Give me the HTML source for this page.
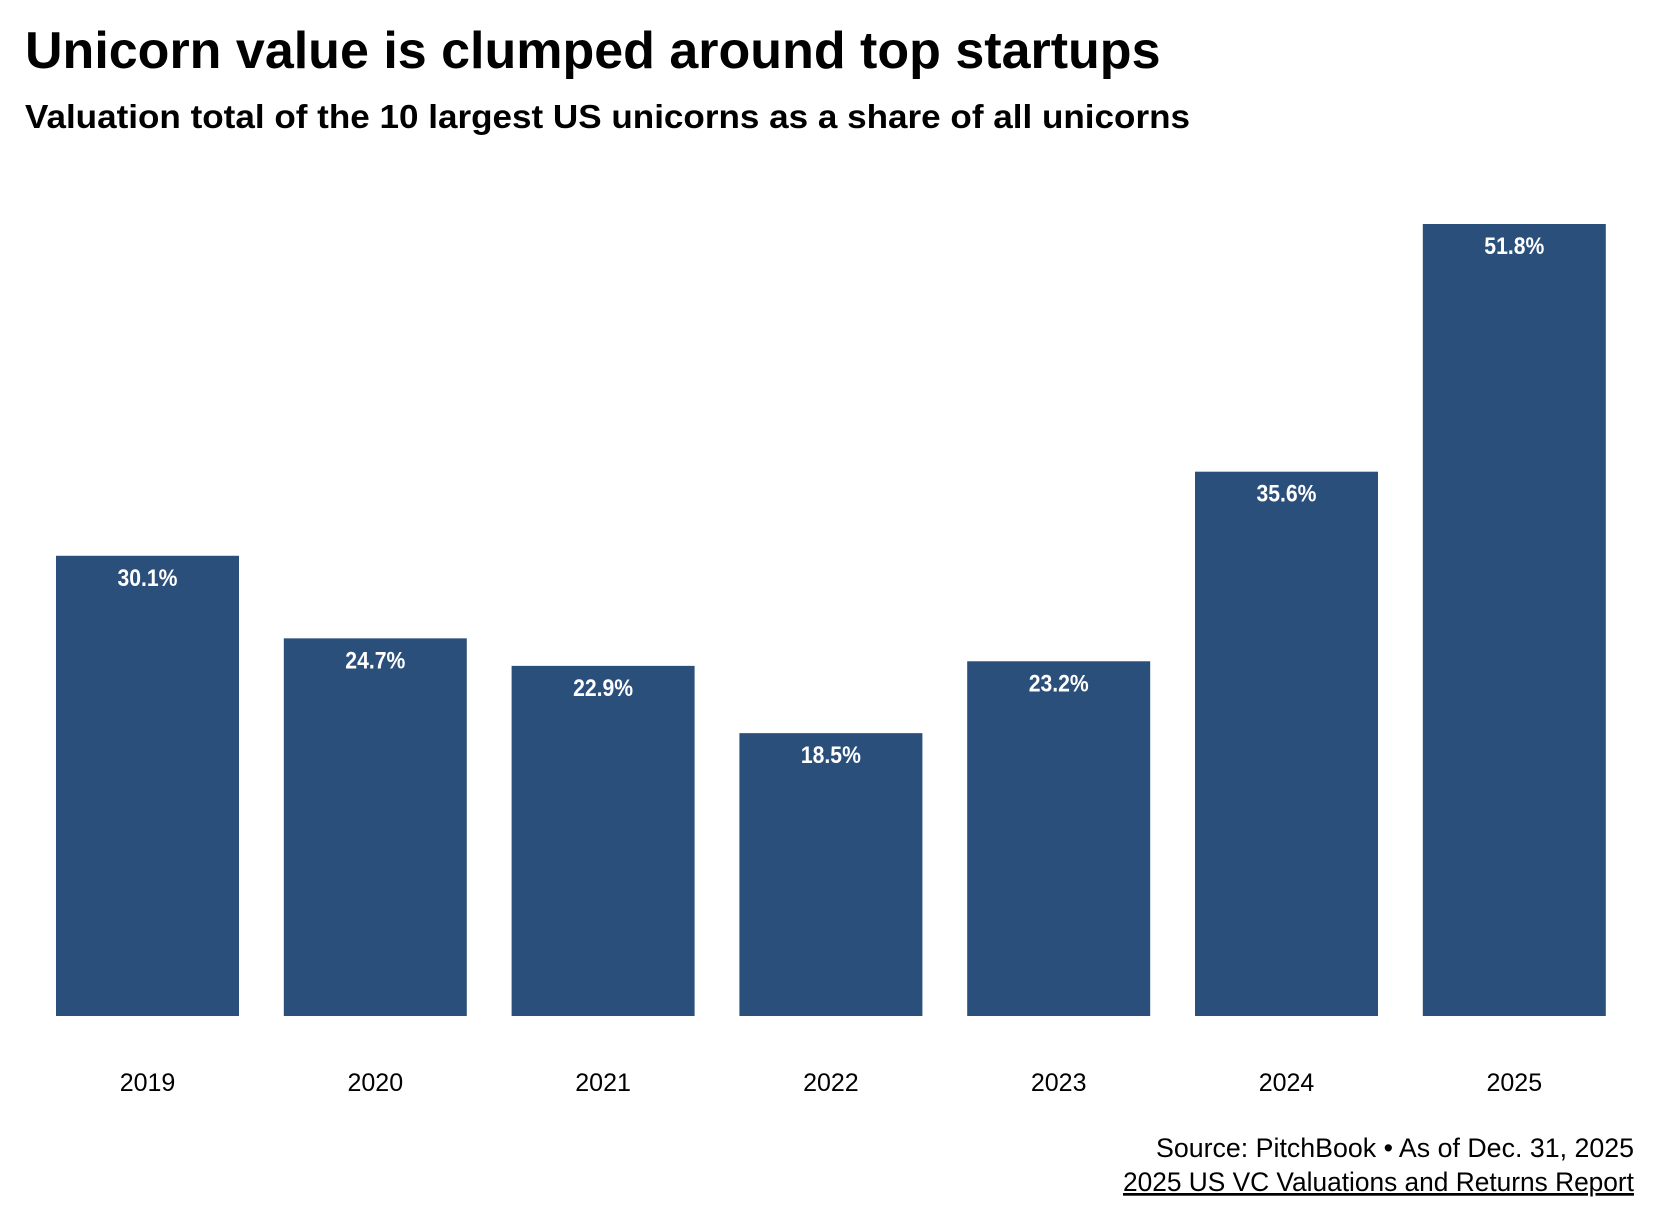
<!DOCTYPE html>
<html><head><meta charset="utf-8"><style>
body{margin:0;background:#fff;width:1662px;height:1224px;overflow:hidden;font-family:"Liberation Sans",sans-serif;}
svg{display:block}
.cond{font-family:"Liberation Sans Narrow","Liberation Sans",sans-serif;}
</style></head><body>
<svg id="chart" width="1662" height="1224">
<text x="25" y="68" font-size="52" font-weight="bold" fill="#000">Unicorn value is clumped around top startups</text>
<text x="25" y="128" font-size="33" font-weight="bold" fill="#000" textLength="1165" lengthAdjust="spacingAndGlyphs">Valuation total of the 10 largest US unicorns as a share of all unicorns</text>
<g id="bars"></g>
<text class="cond" x="1634" y="1157" font-size="27" text-anchor="end" fill="#000" textLength="478" lengthAdjust="spacingAndGlyphs">Source: PitchBook • As of Dec. 31, 2025</text>
<text class="cond" x="1634" y="1191" font-size="27" text-anchor="end" fill="#000" text-decoration="underline" textLength="511" lengthAdjust="spacingAndGlyphs">2025 US VC Valuations and Returns Report</text>
</svg>
<script>
const categories=["2019","2020","2021","2022","2023","2024","2025"];
const values=[30.1,24.7,22.9,18.5,23.2,35.6,51.8];
const labels=["30.1%","24.7%","22.9%","18.5%","23.2%","35.6%","51.8%"];
const baseY=1016, pxPer=(1016-224)/51.8, x0=56, pitch=227.8, bw=183;
const y=v=>baseY-v*pxPer;
const xs=i=>x0+i*pitch;
const g=document.getElementById('bars');
const NS="http://www.w3.org/2000/svg";
categories.forEach((c,i)=>{
  const r=document.createElementNS(NS,'rect');
  r.setAttribute('x',xs(i));r.setAttribute('y',y(values[i]));
  r.setAttribute('width',bw);r.setAttribute('height',baseY-y(values[i]));
  r.setAttribute('fill','#2b4f7b');
  
  
  g.appendChild(r);
  const t=document.createElementNS(NS,'text');
  t.setAttribute('x',xs(i)+bw/2);t.setAttribute('y',y(values[i])+30);
  t.setAttribute('text-anchor','middle');t.setAttribute('fill','#fff');
  t.setAttribute('font-size','24');t.setAttribute('font-weight','bold');
  t.setAttribute('textLength','60');t.setAttribute('lengthAdjust','spacingAndGlyphs');
  t.setAttribute('class','cond');
  t.textContent=labels[i];
  
  
  g.appendChild(t);
  const l=document.createElementNS(NS,'text');
  l.setAttribute('x',xs(i)+bw/2);l.setAttribute('y',1091);
  l.setAttribute('text-anchor','middle');l.setAttribute('fill','#000');
  l.setAttribute('font-size','25');l.setAttribute('class','cond');
  l.textContent=c;
  
  
  g.appendChild(l);
});
</script>
</body></html>
